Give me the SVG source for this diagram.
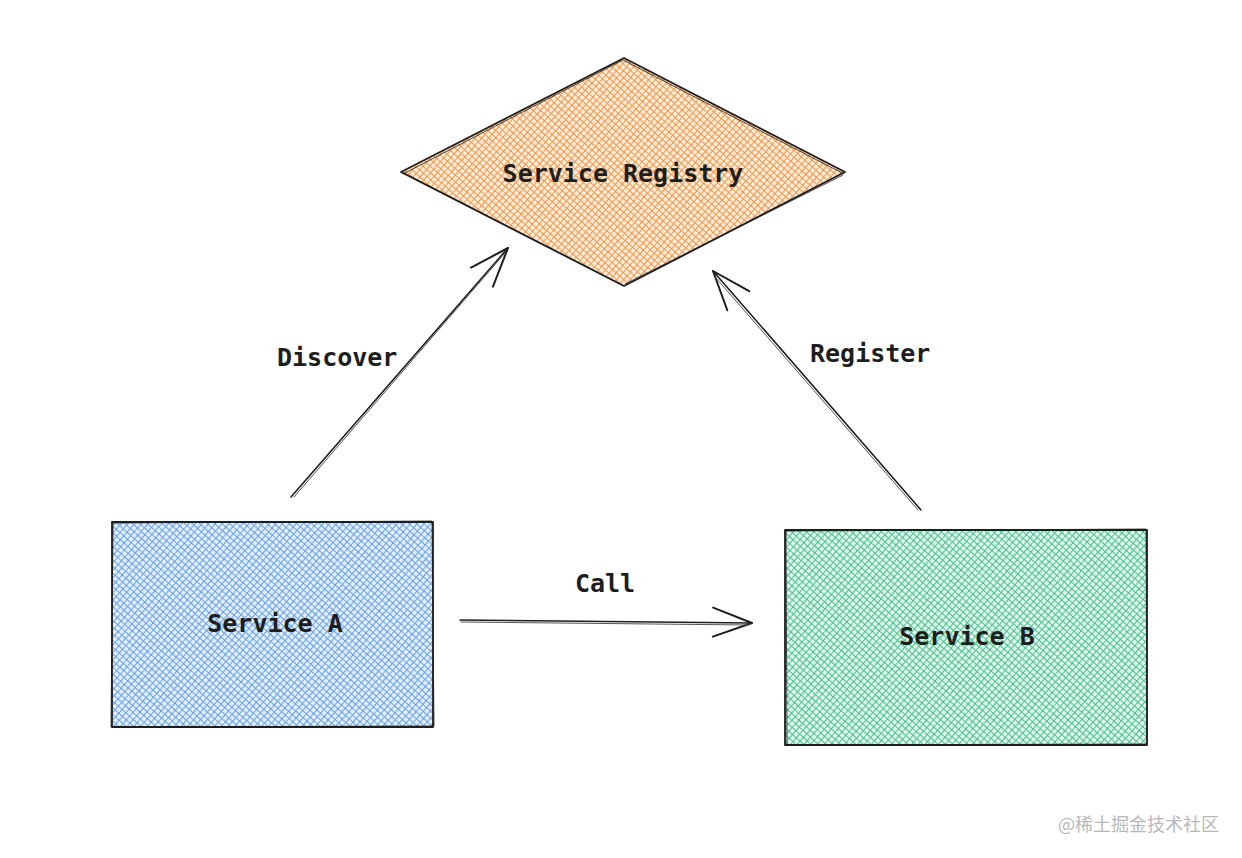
<svg xmlns="http://www.w3.org/2000/svg" width="1242" height="858" viewBox="0 0 1242 858">
<style>
.lbl{font-family:"DejaVu Sans Mono","Liberation Mono",monospace;font-size:25px;font-weight:bold;fill:#1e1e1e}
.edge{fill:none;stroke:#1e1e1e;stroke-width:1.6;stroke-linecap:round}
.edge2{fill:none;stroke:#555;stroke-width:1;stroke-linecap:round}
.outline{fill:none;stroke:#1e1e1e;stroke-width:1.8;stroke-linejoin:round}
.wm{font-family:"Noto Sans CJK SC","Noto Sans",sans-serif;font-size:18px;fill:#b8b8b8}
</style>
<defs>
<pattern id="hBlue" patternUnits="userSpaceOnUse" width="5" height="5" patternTransform="rotate(42)">
<rect width="5" height="5" fill="#e2edfb"/>
<line x1="0" y1="0" x2="5" y2="0" stroke="#5b9be5" stroke-width="1.8"/>
<line x1="0" y1="0" x2="0" y2="5" stroke="#5b9be5" stroke-width="1.8"/>
</pattern>
<pattern id="hGreen" patternUnits="userSpaceOnUse" width="5" height="5" patternTransform="rotate(42)">
<rect width="5" height="5" fill="#def5eb"/>
<line x1="0" y1="0" x2="5" y2="0" stroke="#3cbc86" stroke-width="1.8"/>
<line x1="0" y1="0" x2="0" y2="5" stroke="#3cbc86" stroke-width="1.8"/>
</pattern>
<pattern id="hOrange" patternUnits="userSpaceOnUse" width="5" height="5" patternTransform="rotate(42)">
<rect width="5" height="5" fill="#fdebd9"/>
<line x1="0" y1="0" x2="5" y2="0" stroke="#ef8f3a" stroke-width="1.8"/>
<line x1="0" y1="0" x2="0" y2="5" stroke="#ef8f3a" stroke-width="1.8"/>
</pattern>
<marker id="arr" markerUnits="userSpaceOnUse" markerWidth="50" markerHeight="40" refX="0" refY="0" viewBox="-45 -20 50 40" orient="auto" overflow="visible">
<path d="M-39,-15 L0,0 L-39,14" fill="none" stroke="#1e1e1e" stroke-width="2" stroke-linecap="round" stroke-linejoin="round"/>
</marker>
</defs>
<rect width="1242" height="858" fill="#ffffff"/>

<g id="node-registry">
<polygon points="624,58 845,173 624,286 401,173" fill="url(#hOrange)"/>
<path class="outline" d="M401,172 L624,58 L845,172 L624,286 Z"/>
<path d="M403,174 L623,60 M623,60 L844,174 M843,175 L625,284 M622,285 L402,172" fill="none" stroke="#1e1e1e" stroke-width="0.8"/>
<text class="lbl" x="623" y="182" text-anchor="middle">Service Registry</text>
</g>

<g id="node-service-a">
<rect x="112" y="522" width="321" height="205" fill="url(#hBlue)"/>
<rect class="outline" x="112" y="522" width="321" height="205"/>
<path d="M113,523 L432,521 L434,726 L111,727 Z" fill="none" stroke="#1e1e1e" stroke-width="0.8"/>
<text class="lbl" x="275" y="632" text-anchor="middle">Service A</text>
</g>

<g id="node-service-b">
<rect x="785" y="530" width="362" height="215" fill="url(#hGreen)"/>
<rect class="outline" x="785" y="530" width="362" height="215"/>
<path d="M786,531 L1146,529 L1147,744 L787,745 Z" fill="none" stroke="#1e1e1e" stroke-width="0.8"/>
<text class="lbl" x="967" y="645" text-anchor="middle">Service B</text>
</g>

<g id="connectors">
<g id="edge-discover">
<line class="edge" x1="291" y1="497" x2="508" y2="248" marker-end="url(#arr)"/>
<line class="edge2" x1="294" y1="497" x2="505" y2="253"/>
<text class="lbl" x="277" y="366">Discover</text>
</g>
<g id="edge-register">
<line class="edge" x1="921" y1="510" x2="713" y2="271" marker-end="url(#arr)"/>
<line class="edge2" x1="918" y1="510" x2="716" y2="278"/>
<text class="lbl" x="810" y="362">Register</text>
</g>
<g id="edge-call">
<line class="edge" x1="460" y1="620" x2="752" y2="623" marker-end="url(#arr)"/>
<line class="edge2" x1="461" y1="622" x2="748" y2="625"/>
<text class="lbl" x="605" y="592" text-anchor="middle">Call</text>
</g>
</g>

<text class="wm" x="1058" y="831">@稀土掘金技术社区</text>
</svg>
